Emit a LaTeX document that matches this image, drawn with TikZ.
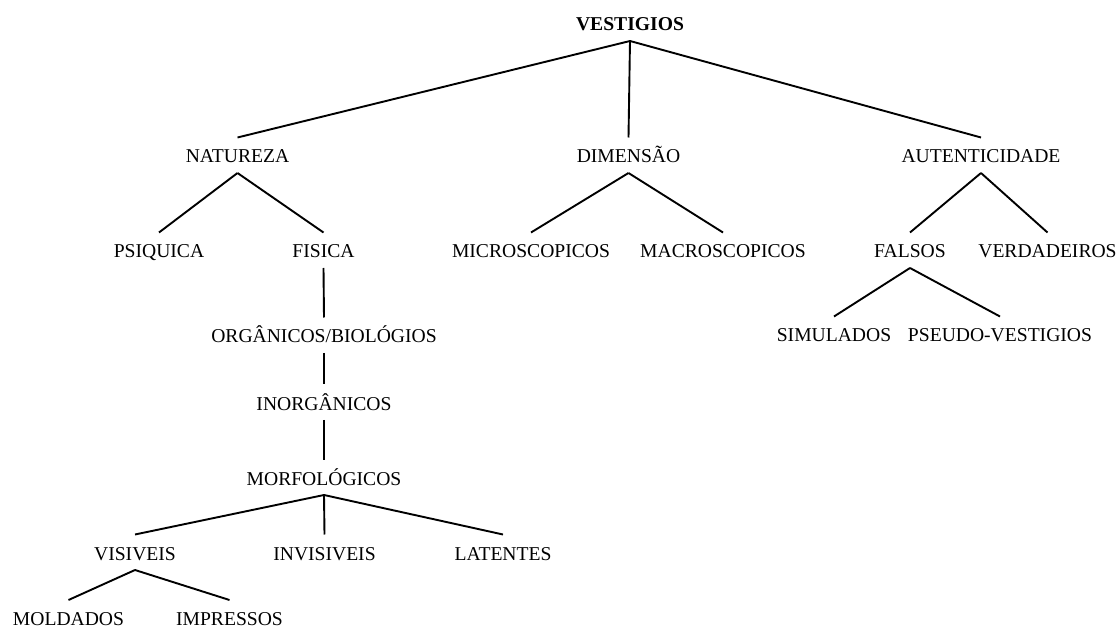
\documentclass[tikz,border=0pt]{standalone}
\usepackage{fontspec}
\setmainfont{Liberation Serif}
\begin{document}
\begin{tikzpicture}[x=1pt,y=-1pt,
  lbl/.style={anchor=base,inner sep=0pt,text depth=0pt,font=\fontsize{19.6}{22}\selectfont},
  edge/.style={line width=1.9pt}]
\useasboundingbox (0,0) rectangle (1120,628);
\node[lbl,font=\fontsize{19.6}{22}\selectfont\bfseries] (vest) at (630,31) {VESTIGIOS};
\node[lbl] (nat) at (237.5,163) {NATUREZA};
\node[lbl] (dim) at (628.5,163) {DIMENSÃO};
\node[lbl] (aut) at (981,163) {AUTENTICIDADE};
\node[lbl] (psi) at (159,258) {PSIQUICA};
\node[lbl] (fis) at (323.5,258) {FISICA};
\node[lbl] (mic) at (531,258) {MICROSCOPICOS};
\node[lbl] (mac) at (723,258) {MACROSCOPICOS};
\node[lbl] (fal) at (910,258) {FALSOS};
\node[lbl] (ver) at (1047.5,258) {VERDADEIROS};
\node[lbl] (sim) at (834,342) {SIMULADOS};
\node[lbl] (pse) at (1000,342) {PSEUDO-VESTIGIOS};
\node[lbl] (org) at (324,343) {ORGÂNICOS/BIOLÓGIOS};
\node[lbl] (inorg) at (324,410) {INORGÂNICOS};
\node[lbl] (morf) at (324,485) {MORFOLÓGICOS};
\node[lbl] (vis) at (135,560) {VISIVEIS};
\node[lbl] (invis) at (324.5,560) {INVISIVEIS};
\node[lbl] (lat) at (503,560) {LATENTES};
\node[lbl] (mold) at (68.5,625.5) {MOLDADOS};
\node[lbl] (imp) at (229.5,625.5) {IMPRESSOS};
\foreach \p/\c in {vest/nat,vest/dim,vest/aut,nat/psi,nat/fis,dim/mic,dim/mac,
  aut/fal,aut/ver,fal/sim,fal/pse,fis/org,org/inorg,inorg/morf,
  morf/vis,morf/invis,morf/lat,vis/mold,vis/imp}
  \draw[edge] ([yshift=-10pt]\p.base) -- ([yshift=25.5pt]\c.base);
\end{tikzpicture}
\end{document}
